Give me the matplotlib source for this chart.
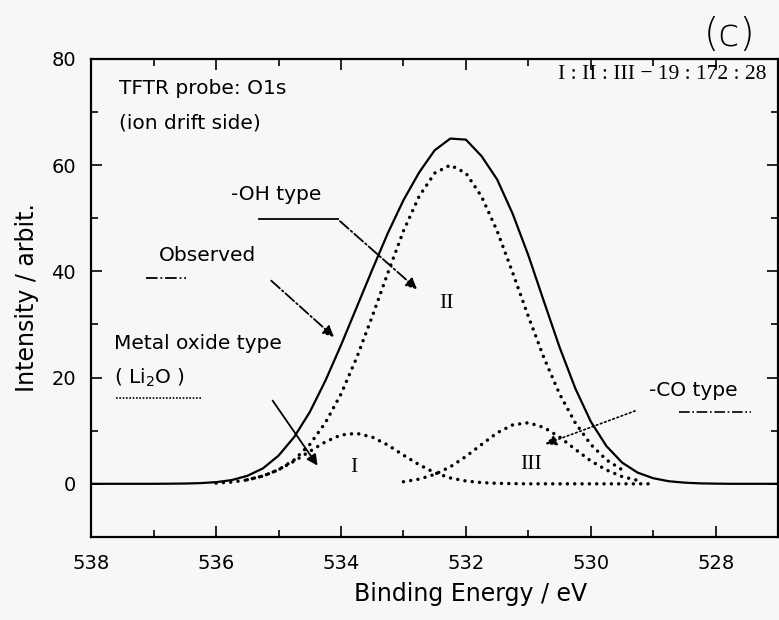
import numpy as np
import matplotlib
matplotlib.use("Agg")
import matplotlib.pyplot as plt
from matplotlib.ticker import MultipleLocator

# binding energy grid (eV), 0.25 eV steps from 538 down to 527
energy = np.arange(538.0, 526.99, -0.25)

# observed spectrum (solid line)
observed = [0, 0, 0, 0, 0, 0.02, 0.05, 0.13, 0.31, 0.7, 1.5, 2.9, 5.3, 8.8, 13.5,
            19.4, 26.1, 33.2, 40.3, 47.2, 53.4, 58.6, 62.8, 65.0, 64.8, 61.7, 57.3,
            50.8, 43.0, 34.3, 25.7, 18.0, 11.7, 7.1, 4.0, 2.1, 1.05, 0.48, 0.22,
            0.08, 0.03, 0, 0, 0, 0]

# fitted components (dotted lines)
peak_I = [0, 0, 0, 0, 0, 0, 0, 0.05, 0.13, 0.32, 0.73, 1.47, 2.64, 4.26, 6.1,
          7.9, 9.2, 9.5, 8.8, 7.3, 5.4, 3.6, 2.1, 1.1, 0.53, 0.23, 0.09, 0.03,
          0, 0, 0, 0, 0, 0, 0, 0, 0, 0, 0, 0, 0, 0, 0, 0, 0]
peak_II = [0, 0, 0, 0, 0, 0.01, 0.03, 0.08, 0.18, 0.38, 0.77, 1.46, 2.64, 4.5, 7.4,
           11.5, 16.9, 23.7, 31.5, 39.7, 47.6, 54.1, 58.5, 60.0, 58.5, 54.1, 47.6,
           39.7, 31.5, 23.7, 16.9, 11.5, 7.4, 4.5, 2.64, 1.46, 0.77, 0.38, 0.18,
           0.08, 0.03, 0.01, 0, 0, 0]
peak_III = [0, 0, 0, 0, 0, 0, 0, 0, 0, 0, 0, 0, 0, 0, 0, 0, 0, 0, 0,
            0.16, 0.39, 0.88, 1.77, 3.2, 5.15, 7.4, 9.6, 11.1, 11.5, 10.6, 8.8,
            6.5, 4.3, 2.6, 1.36, 0.64, 0.28, 0.1, 0.04, 0, 0, 0, 0, 0, 0]

# energy range over which each dotted component is drawn
ranges = {"I": (536.0, 529.0), "II": (535.5, 529.5), "III": (533.0, 529.25)}

bg = "#f7f7f7"
fig = plt.figure(figsize=(7.79, 6.2), dpi=100, facecolor=bg)
ax = fig.add_axes([0.117, 0.134, 0.882, 0.771], facecolor=bg)

ax.plot(energy, observed, color="black", lw=1.6, solid_capstyle="round",
        solid_joinstyle="round")
dot = (0, (0.01, 2.1))
for name, vals in (("I", peak_I), ("II", peak_II), ("III", peak_III)):
    hi, lo = ranges[name]
    m = (energy <= hi + 1e-9) & (energy >= lo - 1e-9)
    ax.plot(energy[m], np.asarray(vals)[m], color="black", lw=2.5,
            linestyle=dot, dash_capstyle="round")

ax.set_xlim(538, 527)
ax.set_ylim(-10, 80)
ax.xaxis.set_major_locator(MultipleLocator(2))
ax.xaxis.set_minor_locator(MultipleLocator(1))
ax.set_yticks([0, 20, 40, 60, 80])
ax.yaxis.set_minor_locator(MultipleLocator(10))
ax.tick_params(which="both", direction="in", top=True, right=True, width=1.2)
ax.tick_params(which="major", length=8)
ax.tick_params(which="minor", length=5)
ax.tick_params(axis="x", labelsize=14, pad=12)
ax.tick_params(axis="y", labelsize=14, pad=11)
for s in ax.spines.values():
    s.set_linewidth(1.6)

ax.set_xlabel("Binding Energy / eV", fontsize=17)
ax.xaxis.set_label_coords(0.552, -0.094)
ax.set_ylabel("Intensity / arbit.", fontsize=17, labelpad=9)

fs = 14.5
ax.text(537.55, 74.5, "TFTR probe: O1s", fontsize=fs, va="center")
ax.text(537.55, 68.0, "(ion drift side)", fontsize=fs, va="center")
ax.text(530.53, 77.0, "I : II : III \u2212 19 : 172 : 28", fontsize=15.5,
        family="Liberation Serif", va="center")
fig.text(0.937, 0.944, "(c)", fontsize=28, ha="center", va="center",
         fontweight="light")

# -OH type
ax.text(535.76, 54.5, "-OH type", fontsize=fs, va="center")
ax.plot([535.31, 534.05], [49.8, 49.8], color="black", lw=1.3)
ax.annotate("", xy=(532.75, 36.3), xytext=(534.05, 49.8),
            arrowprops=dict(arrowstyle="-|>", color="black", lw=1.3,
                            linestyle="-.", mutation_scale=16))
ax.text(532.32, 33.9, "II", fontsize=15.5, family="Liberation Serif",
        ha="center", va="center")

# Observed
ax.text(536.91, 42.9, "Observed", fontsize=fs, va="center")
ax.plot([537.12, 536.48], [38.8, 38.8], color="black", lw=1.3, linestyle="-.")
ax.annotate("", xy=(534.08, 27.3), xytext=(535.15, 38.6),
            arrowprops=dict(arrowstyle="-|>", color="black", lw=1.3,
                            linestyle="-.", mutation_scale=16))

# Metal oxide type
ax.text(537.63, 26.4, "Metal oxide type", fontsize=fs, va="center")
ax.text(537.63, 19.9, "( Li$_2$O )", fontsize=fs, va="center")
ax.plot([537.6, 536.24], [16.1, 16.1], color="black", lw=1.2,
        linestyle=(0, (1, 1)))
ax.annotate("", xy=(534.35, 3.0), xytext=(535.12, 16.1),
            arrowprops=dict(arrowstyle="-|>", color="black", lw=1.3,
                            mutation_scale=16))
ax.text(533.79, 3.0, "I", fontsize=15.5, family="Liberation Serif",
        ha="center", va="center")

# -CO type
ax.text(529.07, 17.6, "-CO type", fontsize=fs, va="center")
ax.plot([528.59, 527.44], [13.5, 13.5], color="black", lw=1.2, linestyle="-.")
ax.annotate("", xy=(530.77, 7.3), xytext=(529.25, 13.9),
            arrowprops=dict(arrowstyle="-|>", color="black", lw=1.2,
                            linestyle=":", mutation_scale=16))
ax.text(530.96, 3.6, "III", fontsize=15.5, family="Liberation Serif",
        ha="center", va="center")

fig.savefig("out.png", dpi=100, facecolor=bg)
